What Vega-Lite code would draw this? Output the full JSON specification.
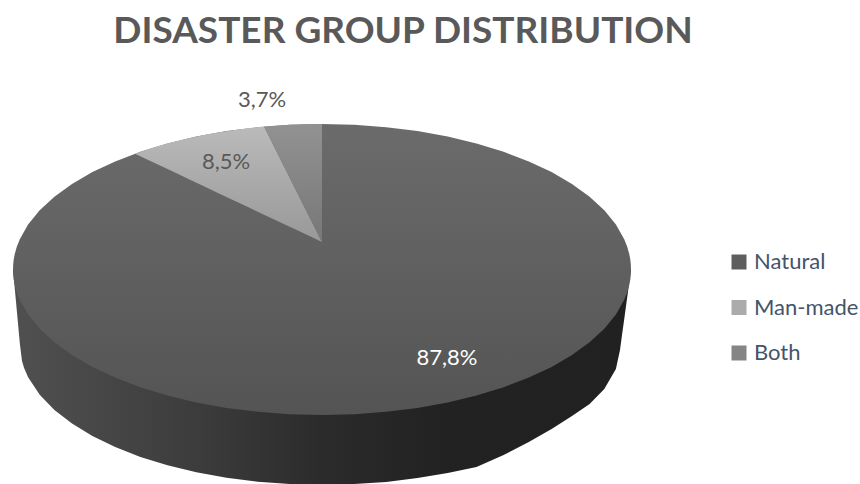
{
  "$schema": "https://vega.github.io/schema/vega-lite/v6.json",
  "width": 860,
  "height": 484,
  "padding": 0,
  "autosize": {"type": "none"},
  "background": "#ffffff",
  "view": {"stroke": null},
  "title": {
    "text": "DISASTER GROUP DISTRIBUTION",
    "font": "Lato",
    "fontSize": 37,
    "fontWeight": "bold",
    "color": "#595959",
    "anchor": "middle",
    "dx": -27,
    "offset": -51
  },
  "datasets": {
    "shares": [
      {"group": "Natural", "share": 87.8, "label": "87,8%", "px": 447, "py": 358, "tone": "light"},
      {"group": "Man-made", "share": 8.5, "label": "8,5%", "px": 226, "py": 162, "tone": "dark"},
      {"group": "Both", "share": 3.7, "label": "3,7%", "px": 262, "py": 100, "tone": "dark"}
    ],
    "rim": [
      {"x": 13, "top": 269.5, "bottom": 269.5},
      {"x": 13.2, "top": 269.5, "bottom": 271.7},
      {"x": 13.7, "top": 269.5, "bottom": 277},
      {"x": 14.7, "top": 269.5, "bottom": 287.8},
      {"x": 16.8, "top": 269.5, "bottom": 310.5},
      {"x": 19.8, "top": 269.5, "bottom": 342.9},
      {"x": 20, "top": 269.5, "bottom": 345},
      {"x": 22, "top": 269.5, "bottom": 361},
      {"x": 24, "top": 269.5, "bottom": 367.7},
      {"x": 28.1, "top": 269.5, "bottom": 377.2},
      {"x": 39.7, "top": 269.5, "bottom": 394.7},
      {"x": 54.4, "top": 269.5, "bottom": 409.9},
      {"x": 72, "top": 269.5, "bottom": 423.5},
      {"x": 92.4, "top": 269.5, "bottom": 435.9},
      {"x": 115.2, "top": 269.5, "bottom": 447},
      {"x": 140.4, "top": 269.5, "bottom": 456.9},
      {"x": 167.5, "top": 269.5, "bottom": 465.3},
      {"x": 196.3, "top": 269.5, "bottom": 472.3},
      {"x": 226.5, "top": 269.5, "bottom": 477.8},
      {"x": 257.8, "top": 269.5, "bottom": 481.8},
      {"x": 289.7, "top": 269.5, "bottom": 484},
      {"x": 322, "top": 269.5, "bottom": 484},
      {"x": 354.3, "top": 269.5, "bottom": 484},
      {"x": 386.2, "top": 269.5, "bottom": 482},
      {"x": 417.5, "top": 269.5, "bottom": 478},
      {"x": 447.7, "top": 269.5, "bottom": 473},
      {"x": 476.5, "top": 269.5, "bottom": 467},
      {"x": 503.6, "top": 269.5, "bottom": 455},
      {"x": 528.8, "top": 269.5, "bottom": 442},
      {"x": 551.6, "top": 269.5, "bottom": 429},
      {"x": 572, "top": 269.5, "bottom": 416},
      {"x": 589.6, "top": 269.5, "bottom": 404},
      {"x": 604.3, "top": 269.5, "bottom": 389},
      {"x": 615.9, "top": 269.5, "bottom": 369},
      {"x": 620, "top": 269.5, "bottom": 350},
      {"x": 622, "top": 269.5, "bottom": 335},
      {"x": 624, "top": 269.5, "bottom": 320.7},
      {"x": 627.2, "top": 269.5, "bottom": 297.3},
      {"x": 629.3, "top": 269.5, "bottom": 282},
      {"x": 630.3, "top": 269.5, "bottom": 274.6},
      {"x": 631, "top": 269.5, "bottom": 269.5}
    ],
    "faces": [
      {"group": "Natural", "x": 13, "top": 269.5, "bottom": 269.5},
      {"group": "Natural", "x": 13.2, "top": 264.4, "bottom": 274.6},
      {"group": "Natural", "x": 13.7, "top": 259.4, "bottom": 279.6},
      {"group": "Natural", "x": 14.7, "top": 254.3, "bottom": 284.7},
      {"group": "Natural", "x": 16.8, "top": 246.7, "bottom": 292.3},
      {"group": "Natural", "x": 19.8, "top": 239.3, "bottom": 299.7},
      {"group": "Natural", "x": 28.1, "top": 224.5, "bottom": 314.5},
      {"group": "Natural", "x": 39.7, "top": 210.3, "bottom": 328.7},
      {"group": "Natural", "x": 54.4, "top": 196.75, "bottom": 342.25},
      {"group": "Natural", "x": 72, "top": 184, "bottom": 355},
      {"group": "Natural", "x": 92.4, "top": 172.1, "bottom": 366.9},
      {"group": "Natural", "x": 115.2, "top": 161.4, "bottom": 377.6},
      {"group": "Natural", "x": 140.4, "top": 151.8, "bottom": 387.2},
      {"group": "Natural", "x": 167.5, "top": 143.5, "bottom": 395.5},
      {"group": "Natural", "x": 196.3, "top": 136.6, "bottom": 402.4},
      {"group": "Natural", "x": 226.5, "top": 131.1, "bottom": 407.9},
      {"group": "Natural", "x": 257.8, "top": 127.2, "bottom": 411.8},
      {"group": "Natural", "x": 289.7, "top": 124.8, "bottom": 414.2},
      {"group": "Natural", "x": 322, "top": 124, "bottom": 415},
      {"group": "Natural", "x": 354.3, "top": 124.8, "bottom": 414.2},
      {"group": "Natural", "x": 386.2, "top": 127.2, "bottom": 411.8},
      {"group": "Natural", "x": 417.5, "top": 131.1, "bottom": 407.9},
      {"group": "Natural", "x": 447.7, "top": 136.6, "bottom": 402.4},
      {"group": "Natural", "x": 476.5, "top": 143.5, "bottom": 395.5},
      {"group": "Natural", "x": 503.6, "top": 151.8, "bottom": 387.2},
      {"group": "Natural", "x": 528.8, "top": 161.4, "bottom": 377.6},
      {"group": "Natural", "x": 551.6, "top": 172.1, "bottom": 366.9},
      {"group": "Natural", "x": 572, "top": 184, "bottom": 355},
      {"group": "Natural", "x": 589.6, "top": 196.75, "bottom": 342.25},
      {"group": "Natural", "x": 604.3, "top": 210.3, "bottom": 328.7},
      {"group": "Natural", "x": 615.9, "top": 224.5, "bottom": 314.5},
      {"group": "Natural", "x": 624.2, "top": 239.3, "bottom": 299.7},
      {"group": "Natural", "x": 627.2, "top": 246.7, "bottom": 292.3},
      {"group": "Natural", "x": 629.3, "top": 254.3, "bottom": 284.7},
      {"group": "Natural", "x": 630.3, "top": 259.4, "bottom": 279.6},
      {"group": "Natural", "x": 630.8, "top": 264.4, "bottom": 274.6},
      {"group": "Natural", "x": 631, "top": 269.5, "bottom": 269.5},
      {"group": "Man-made", "x": 135, "top": 153.7, "bottom": 153.7},
      {"group": "Man-made", "x": 145, "top": 150.2, "bottom": 158.4},
      {"group": "Man-made", "x": 160, "top": 145.6, "bottom": 165.5},
      {"group": "Man-made", "x": 175, "top": 141.5, "bottom": 172.6},
      {"group": "Man-made", "x": 190, "top": 137.9, "bottom": 179.7},
      {"group": "Man-made", "x": 205, "top": 134.8, "bottom": 186.8},
      {"group": "Man-made", "x": 220, "top": 132.2, "bottom": 193.9},
      {"group": "Man-made", "x": 235, "top": 129.9, "bottom": 201},
      {"group": "Man-made", "x": 250, "top": 128, "bottom": 208.1},
      {"group": "Man-made", "x": 264, "top": 126.6, "bottom": 214.7},
      {"group": "Man-made", "x": 280, "top": 158.4, "bottom": 222.2},
      {"group": "Man-made", "x": 300, "top": 198.2, "bottom": 231.6},
      {"group": "Man-made", "x": 322, "top": 242, "bottom": 242},
      {"group": "Both", "x": 264, "top": 126.6, "bottom": 126.6},
      {"group": "Both", "x": 275, "top": 125.7, "bottom": 148.5},
      {"group": "Both", "x": 290, "top": 124.8, "bottom": 178.4},
      {"group": "Both", "x": 305, "top": 124.2, "bottom": 208.2},
      {"group": "Both", "x": 322, "top": 124, "bottom": 242}
    ]
  },
  "encoding": {
    "x": {"type": "quantitative", "scale": {"domain": [0, 860], "nice": false, "zero": false}, "axis": null},
    "y": {"type": "quantitative", "scale": {"domain": [484, 0], "nice": false, "zero": false}, "axis": null}
  },
  "layer": [
    {
      "data": {"name": "rim"},
      "mark": {
        "type": "area",
        "color": {
          "gradient": "linear",
          "x1": 0, "y1": 0, "x2": 1, "y2": 0,
          "stops": [
            {"offset": 0, "color": "#505050"},
            {"offset": 0.3, "color": "#3c3c3c"},
            {"offset": 0.5, "color": "#2b2b2b"},
            {"offset": 0.7, "color": "#222222"},
            {"offset": 1, "color": "#212121"}
          ]
        }
      },
      "encoding": {
        "x": {"field": "x"},
        "y": {"field": "top", "stack": null},
        "y2": {"field": "bottom"}
      }
    },
    {
      "data": {"name": "faces"},
      "transform": [{"filter": "datum.group === 'Natural'"}],
      "mark": {
        "type": "area",
        "color": {
          "gradient": "linear", "x1": 0, "y1": 0, "x2": 0, "y2": 1,
          "stops": [{"offset": 0, "color": "#6b6b6b"}, {"offset": 1, "color": "#545454"}]
        }
      },
      "encoding": {
        "x": {"field": "x"},
        "y": {"field": "top", "stack": null},
        "y2": {"field": "bottom"}
      }
    },
    {
      "data": {"name": "faces"},
      "transform": [{"filter": "datum.group === 'Man-made'"}],
      "mark": {
        "type": "area",
        "color": {
          "gradient": "linear", "x1": 0, "y1": 0, "x2": 0, "y2": 1,
          "stops": [{"offset": 0, "color": "#bababa"}, {"offset": 1, "color": "#989898"}]
        }
      },
      "encoding": {
        "x": {"field": "x"},
        "y": {"field": "top", "stack": null},
        "y2": {"field": "bottom"}
      }
    },
    {
      "data": {"name": "faces"},
      "transform": [{"filter": "datum.group === 'Both'"}],
      "mark": {
        "type": "area",
        "color": {
          "gradient": "linear", "x1": 0, "y1": 0, "x2": 0, "y2": 1,
          "stops": [{"offset": 0, "color": "#929292"}, {"offset": 1, "color": "#777777"}]
        }
      },
      "encoding": {
        "x": {"field": "x"},
        "y": {"field": "top", "stack": null},
        "y2": {"field": "bottom"}
      }
    },
    {
      "data": {"name": "shares"},
      "mark": {"type": "point", "shape": "square", "filled": true, "opacity": 0, "size": 1},
      "encoding": {
        "x": {"field": "px"},
        "y": {"field": "py"},
        "color": {
          "field": "group",
          "type": "nominal",
          "sort": null,
          "scale": {
            "domain": ["Natural", "Man-made", "Both"],
            "range": ["#5e5e5e", "#ababab", "#858585"]
          },
          "legend": {
            "title": null,
            "orient": "none",
            "legendX": 728,
            "legendY": 251,
            "symbolType": "square",
            "symbolSize": 225,
            "symbolOpacity": 1,
            "symbolStrokeWidth": 0,
            "labelFont": "Lato",
            "labelFontSize": 22,
            "labelColor": "#44546a",
            "labelOffset": 4,
            "rowPadding": 23.5
          }
        }
      }
    },
    {
      "data": {"name": "shares"},
      "mark": {"type": "text", "font": "Lato", "fontSize": 22, "align": "center", "baseline": "middle"},
      "encoding": {
        "x": {"field": "px"},
        "y": {"field": "py"},
        "text": {"field": "label"},
        "color": {
          "field": "tone",
          "type": "nominal",
          "scale": {"domain": ["light", "dark"], "range": ["#ffffff", "#595959"]},
          "legend": null
        }
      }
    }
  ],
  "resolve": {"scale": {"color": "independent"}}
}
